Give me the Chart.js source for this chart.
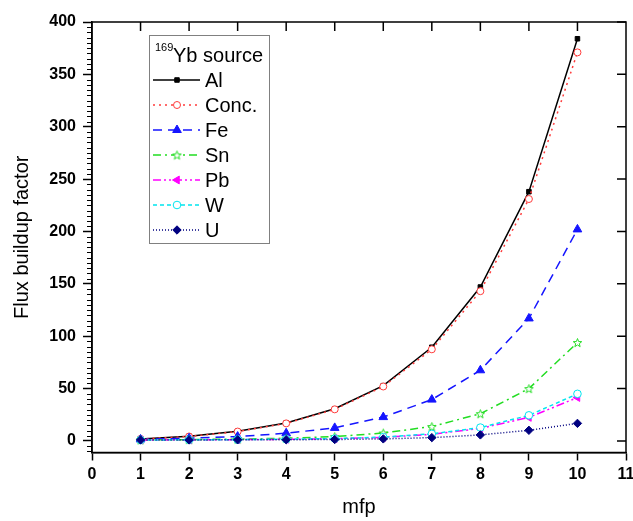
<!DOCTYPE html>
<html>
<head>
<meta charset="utf-8">
<script src="https://cdn.jsdelivr.net/npm/chart.js@4"></script>
<style>
  body { margin: 0; background: #fff; }
  #wrap { width: 633px; height: 521px; }
</style>
</head>
<body>
<div id="wrap"><canvas id="buildup-chart" width="633" height="521"></canvas></div>
<script>
// mean free paths
mfp = [1, 2, 3, 4, 5, 6, 7, 8, 9, 10]

// flux buildup factor per material
al   = [2.0, 4.5, 9.3, 17.2, 30.8, 52.8, 89.5, 147, 238, 384]
conc = [1.9, 4.3, 9.0, 16.8, 30.2, 52.0, 87.5, 143, 231, 371]
fe   = [1.5, 2.6, 4.2, 7.4, 12.5, 22.8, 39.5, 67.5, 117, 202]
sn   = [1.1, 1.3, 1.8, 2.6, 4.2, 7.6, 13.8, 26.0, 50.0, 94.0]
pb   = [1.0, 1.1, 1.3, 1.6, 2.2, 3.5, 6.3, 12.0, 22.5, 41.5]
w    = [1.0, 1.1, 1.3, 1.7, 2.3, 3.7, 6.8, 12.8, 24.5, 45.0]
u    = [1.0, 1.0, 1.1, 1.2, 1.4, 2.0, 3.2, 5.8, 10.2, 16.8]

yTicks = [0, 50, 100, 150, 200, 250, 300, 350, 400]

function starImage(color, size) {
    var c = document.createElement('canvas');
    c.width = size; c.height = size;
    var g = c.getContext('2d');
    var cx = size / 2, cy = size / 2 + 0.5, R = size / 2 - 1, r = R * 0.42;
    g.beginPath();
    for (var i = 0; i < 10; i++) {
        var rad = (i % 2 == 0) ? R : r;
        var a = -Math.PI / 2 + i * Math.PI / 5;
        var px = cx + rad * Math.cos(a), py = cy + rad * Math.sin(a);
        if (i == 0) g.moveTo(px, py); else g.lineTo(px, py);
    }
    g.closePath();
    g.fillStyle = '#fff';
    g.fill();
    g.strokeStyle = color;
    g.lineWidth = 1;
    g.stroke();
    return c;
}

var star = starImage('#22dd22', 11);

function pts(arr) {
    return mfp.map(function (x, i) { return {x: x, y: arr[i]}; });
}

var series = [
    {label: 'Al', data: al, color: '#000000', dash: [], style: 'rect', radius: 3.2, fill: '#000000', rot: 0},
    {label: 'Conc.', data: conc, color: '#ff3b3b', dash: [2, 4], style: 'circle', radius: 3.5, fill: '#ffffff', rot: 0},
    {label: 'Fe', data: fe, color: '#1515ff', dash: [9, 6], style: 'triangle', radius: 5, fill: '#1515ff', rot: 0},
    {label: 'Sn', data: sn, color: '#22dd22', dash: [8, 4, 2, 4], style: star, radius: 5, fill: '#ffffff', rot: 0},
    {label: 'Pb', data: pb, color: '#ff00ff', dash: [8, 3, 2, 3, 2, 3], style: 'triangle', radius: 4.5, fill: '#ff00ff', rot: -90},
    {label: 'W', data: w, color: '#00e5ee', dash: [4, 3], style: 'circle', radius: 3.8, fill: '#ffffff', rot: 0},
    {label: 'U', data: u, color: '#000080', dash: [1, 2], style: 'rectRot', radius: 4.2, fill: '#000080', rot: 0}
]

var datasets = []
for (var i = series.length - 1; i >= 0; i--) {
    var s = series[i];
    datasets.push({
        label: s.label,
        data: pts(s.data),
        borderColor: s.color,
        borderWidth: 1.5,
        borderDash: s.dash,
        pointStyle: s.style,
        pointRadius: s.radius,
        pointRotation: s.rot,
        pointBackgroundColor: s.fill,
        pointBorderColor: s.color,
        pointBorderWidth: 1,
        fill: false,
        tension: 0
    });
}

var framePlugin = {
    id: 'frame',
    afterDraw: function (chart) {
        var ctx = chart.ctx, a = chart.chartArea;
        var xs = chart.scales.x, ys = chart.scales.y;
        ctx.save();
        ctx.strokeStyle = '#000';
        ctx.lineWidth = 1.5;
        ctx.setLineDash([]);
        ctx.strokeRect(a.left, a.top, a.right - a.left, a.bottom - a.top);
        ctx.beginPath();
        // top ticks, inward
        for (var v = 1; v <= 10; v++) {
            var px = xs.getPixelForValue(v);
            ctx.moveTo(px, a.top); ctx.lineTo(px, a.top + 9);
        }
        // right ticks, inward
        yTicks.forEach(function (t) {
            var py = ys.getPixelForValue(t);
            ctx.moveTo(a.right, py); ctx.lineTo(a.right - 9, py);
        });
        ctx.stroke();
        // minor ticks on left axis
        ctx.lineWidth = 1;
        ctx.beginPath();
        for (var m = -10; m <= 400; m += 5) {
            if (m % 50 == 0) continue;
            var py2 = Math.round(ys.getPixelForValue(m)) + 0.5;
            ctx.moveTo(a.left, py2); ctx.lineTo(a.left - 5, py2);
        }
        ctx.stroke();

        // legend
        var bx = 149, by = 35, bw = 120, bh = 208;
        ctx.fillStyle = '#fff';
        ctx.fillRect(bx, by, bw, bh);
        ctx.strokeStyle = '#808080';
        ctx.lineWidth = 1;
        ctx.strokeRect(bx + 0.5, by + 0.5, bw, bh);
        ctx.fillStyle = '#000';
        ctx.textBaseline = 'alphabetic';
        ctx.font = '11px "Liberation Sans", Arial, sans-serif';
        ctx.fillText('169', 155, 51);
        ctx.font = '20px "Liberation Sans", Arial, sans-serif';
        ctx.fillText('Yb source', 173, 62);
        var rowY = [80, 105, 130, 155, 180, 205, 230];
        series.forEach(function (s, i) {
            var y = rowY[i];
            ctx.strokeStyle = s.color;
            ctx.lineWidth = 1.5;
            ctx.setLineDash(s.dash);
            ctx.beginPath();
            ctx.moveTo(153, y); ctx.lineTo(200, y);
            ctx.stroke();
            ctx.setLineDash([]);
            ctx.fillStyle = s.fill;
            ctx.strokeStyle = s.color;
            ctx.lineWidth = 1;
            Chart.helpers.drawPoint(ctx, {pointStyle: s.style, radius: s.radius, rotation: s.rot, borderWidth: 1}, 177, y);
            ctx.fillStyle = '#000';
            ctx.font = '20px "Liberation Sans", Arial, sans-serif';
            ctx.textBaseline = 'middle';
            ctx.fillText(s.label, 205, y + 1);
        });
        ctx.restore();
    }
}

var tickFont = {family: '"Liberation Sans", Arial, sans-serif', size: 16, weight: 'bold'};
var titleFont = {family: '"Liberation Sans", Arial, sans-serif', size: 20};

new Chart(document.getElementById('buildup-chart'), {
    type: 'line',
    data: {datasets: datasets},
    options: {
        responsive: false,
        animation: false,
        layout: {padding: {top: 22, right: 0, left: 0, bottom: 0}},
        plugins: {legend: {display: false}, tooltip: {enabled: false}},
        scales: {
            x: {
                type: 'linear',
                min: 0,
                max: 11,
                ticks: {stepSize: 1, color: '#000', font: tickFont, padding: 4, maxRotation: 0},
                grid: {drawOnChartArea: false, color: '#000', tickLength: 8, tickWidth: 1.5},
                border: {color: '#000', width: 1.5},
                title: {display: true, text: 'mfp', color: '#000', font: titleFont, padding: {top: 0, bottom: 2}},
                afterFit: function (scale) {
                    scale.height = 68.5;
                    scale.paddingRight = 7;
                }
            },
            y: {
                type: 'linear',
                min: -11,
                max: 400,
                afterBuildTicks: function (scale) {
                    scale.ticks = yTicks.map(function (v) { return {value: v}; });
                },
                ticks: {color: '#000', font: tickFont, padding: 7},
                grid: {drawOnChartArea: false, color: '#000', tickLength: 9, tickWidth: 1.5},
                border: {color: '#000', width: 1.5},
                title: {display: true, text: 'Flux buildup factor', color: '#000', font: titleFont, padding: {top: 10, bottom: 0}},
                afterFit: function (scale) { scale.width = 92; }
            }
        }
    },
    plugins: [framePlugin]
});
</script>
</body>
</html>
